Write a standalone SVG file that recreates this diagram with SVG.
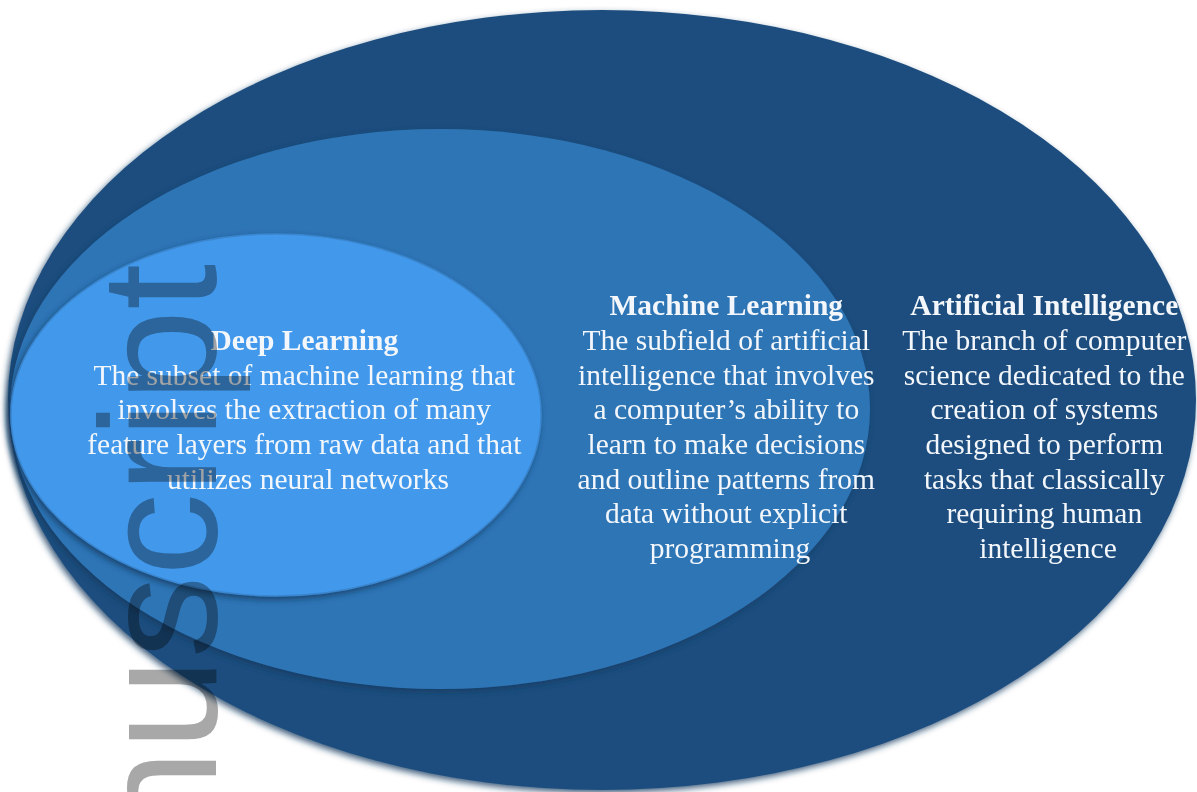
<svg xmlns="http://www.w3.org/2000/svg" width="1197" height="792" viewBox="0 0 1197 792">
  <defs>
    <filter id="rim" x="-5%" y="-5%" width="110%" height="110%">
      <feGaussianBlur in="SourceAlpha" stdDeviation="3"/>
      <feOffset dx="-2" dy="3" result="blur"/>
      <feFlood flood-color="#143a60" flood-opacity="0.8"/>
      <feComposite in2="blur" operator="in" result="shadow"/>
      <feMerge>
        <feMergeNode in="shadow"/>
        <feMergeNode in="SourceGraphic"/>
      </feMerge>
    </filter>
    <style>
      .label { font-family: "Liberation Serif", "Times New Roman", serif; font-size: 29.5px; fill: #f3f7fb; text-anchor: middle; }
      .title { font-weight: bold; }
      .ai { fill: #1f4e7e; }
      .ml { fill: #2f74b6; }
      .dl { fill: #4399ec; stroke: #3a86cf; stroke-width: 1.5; }
      .mark { font-family: "Liberation Sans", Arial, sans-serif; font-size: 165px; fill: #a8a8a8; text-anchor: end; mix-blend-mode: multiply; }
    </style>
  </defs>

  <rect width="1197" height="792" fill="#ffffff"/>

  <!-- Artificial Intelligence: outermost set -->
  <g id="node-ai">
    <ellipse class="ai" cx="602" cy="400" rx="594" ry="390" filter="url(#rim)"/>
    <text class="label" x="1048">
      <tspan class="title" x="1048" y="315">Artificial Intelligence</tspan>
      <tspan x="1048" y="350">The branch of computer</tspan>
      <tspan x="1048" y="384.5">science dedicated to the</tspan>
      <tspan x="1048" y="419">creation of systems</tspan>
      <tspan x="1048" y="454">designed to perform</tspan>
      <tspan x="1048" y="488.5">tasks that classically</tspan>
      <tspan x="1048" y="523">requiring human</tspan>
      <tspan x="1048" y="558">intelligence</tspan>
    </text>
  </g>

  <!-- Machine Learning: subset of AI -->
  <g id="node-ml">
    <ellipse class="ml" cx="440" cy="409" rx="430" ry="280" filter="url(#rim)"/>
    <text class="label" x="730">
      <tspan class="title" x="730" y="315">Machine Learning</tspan>
      <tspan x="730" y="350">The subfield of artificial</tspan>
      <tspan x="730" y="384.5">intelligence that involves</tspan>
      <tspan x="730" y="419">a computer’s ability to</tspan>
      <tspan x="730" y="454">learn to make decisions</tspan>
      <tspan x="730" y="488.5">and outline patterns from</tspan>
      <tspan x="730" y="523">data without explicit</tspan>
      <tspan x="730" y="558">programming</tspan>
    </text>
  </g>

  <!-- Deep Learning: subset of ML -->
  <g id="node-dl">
    <ellipse class="dl" cx="276" cy="415" rx="265" ry="181" filter="url(#rim)"/>
    <text class="label" x="308">
      <tspan class="title" x="308" y="350">Deep Learning</tspan>
      <tspan x="308" y="384.5">The subset of machine learning that</tspan>
      <tspan x="308" y="419">involves the extraction of many</tspan>
      <tspan x="308" y="454">feature layers from raw data and that</tspan>
      <tspan x="308" y="488.5">utilizes neural networks</tspan>
    </text>
  </g>

  <!-- vertical watermark along the left side -->
  <g id="watermark">
    <text class="mark" transform="translate(216,264) rotate(-90)">nuscript</text>
  </g>
</svg>
